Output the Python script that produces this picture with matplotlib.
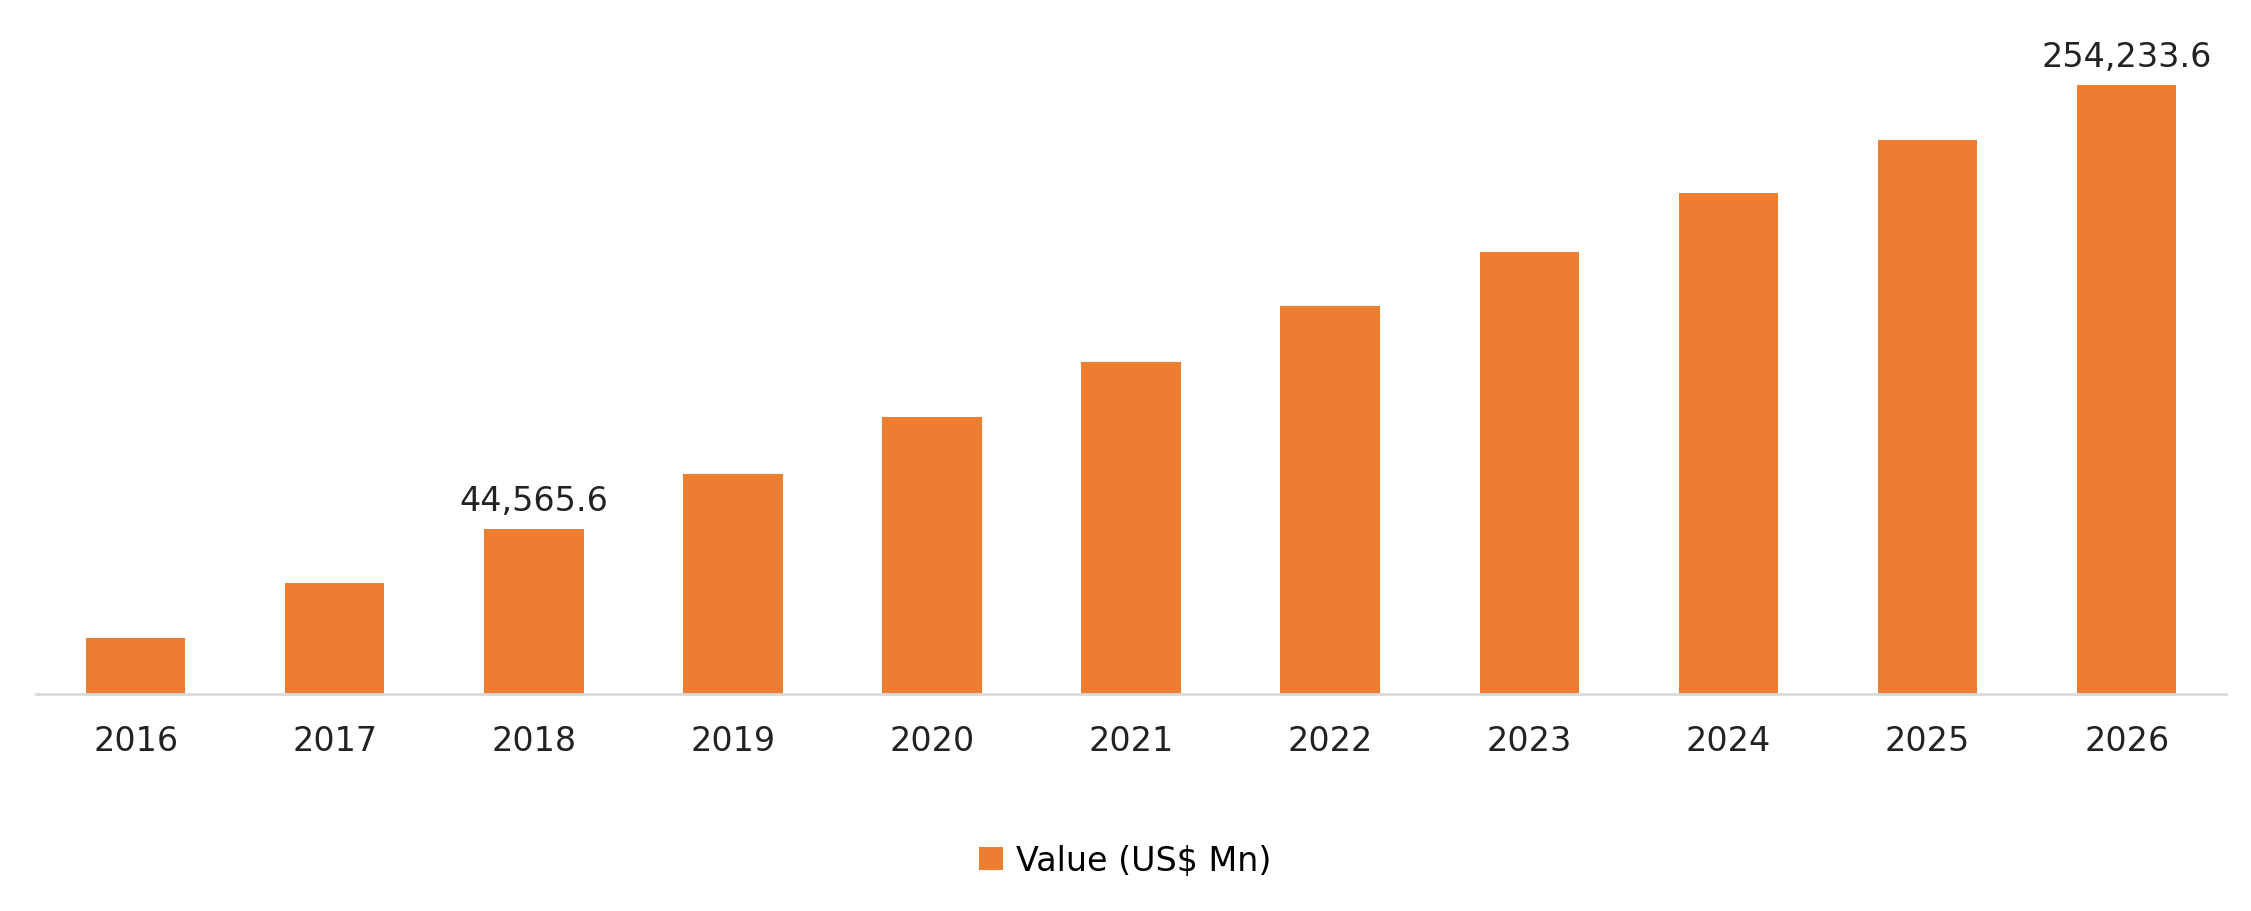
import matplotlib.pyplot as plt

years = ['2016', '2017', '2018', '2019', '2020', '2021', '2022', '2023', '2024', '2025', '2026']
values = [23385, 46170, 68954, 91739, 115723, 138508, 161892, 184677, 209261, 231446, 254233.6]
labels = {2: '44,565.6', 10: '254,233.6'}

fig = plt.figure(figsize=(22.51, 9.12), dpi=100)
ax = fig.add_axes([0.016, 0.238, 0.973, 0.732])
x = range(len(years))
ax.bar(x, values, width=0.5, color='#ED7D31', label='Value (US$ Mn)')
ax.set_xlim(-0.5, len(years) - 0.5)
ax.set_ylim(0, 278815)
for i, t in labels.items():
    ax.text(i, values[i] + 5000, t, ha='center', va='bottom', fontsize=24, color='#222222')
ax.set_xticks(list(x))
ax.set_xticklabels(years, fontsize=24, color='#222222')
ax.tick_params(axis='x', length=0, pad=22)
ax.set_yticks([])
for s in ['top', 'right', 'left']:
    ax.spines[s].set_visible(False)
ax.spines['bottom'].set_color('#d9d9d9')
ax.spines['bottom'].set_linewidth(2)
fig.legend(loc='center', bbox_to_anchor=(0.5, 0.055), frameon=False, fontsize=24,
           handlelength=0.7, handleheight=0.7, handletextpad=0.4)
fig.savefig('out.png', dpi=100)
